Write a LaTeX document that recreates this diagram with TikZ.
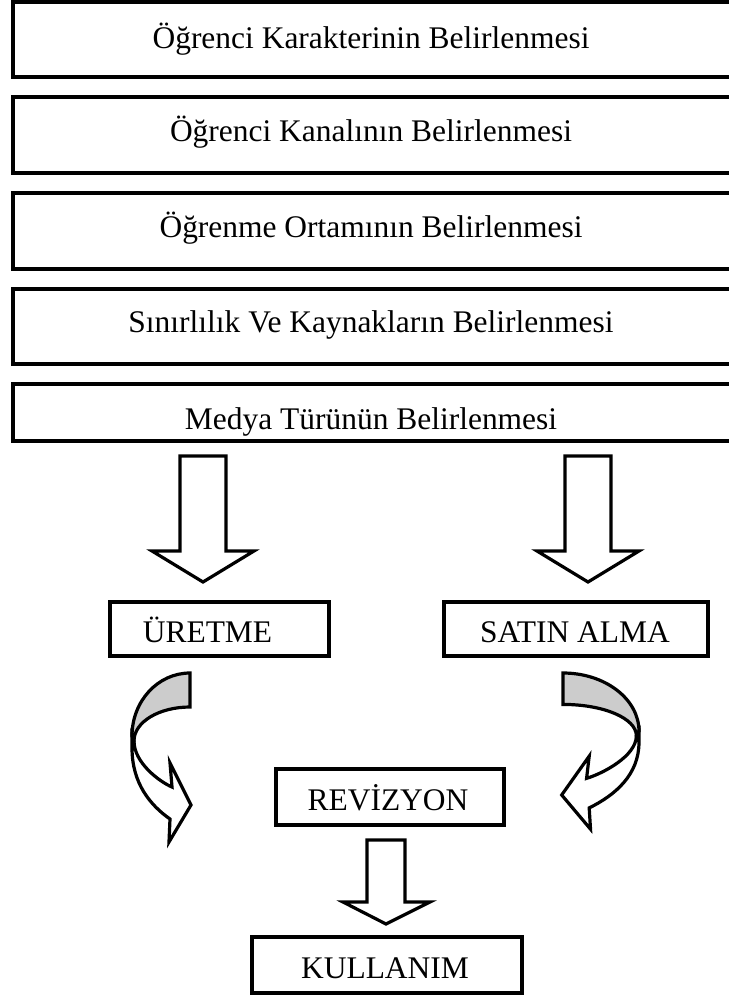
\documentclass[tikz,border=0pt]{standalone}
\usepackage{fontspec}
\setmainfont{Liberation Serif}
\begin{document}
\begin{tikzpicture}[x=0.75pt,y=-0.75pt,
  stagebox/.style={draw=black,line width=2.8pt,fill=white,inner sep=0pt,
    minimum width=541.5pt},
  choicebox/.style={draw=black,line width=2.5pt,fill=white,inner sep=0pt},
  caption/.style={anchor=base,inner sep=0pt,font=\fontsize{23.6}{28}\selectfont},
  blockarrow/.style={draw=black,line width=2.4pt,fill=white,line join=miter},
  backside/.style={draw=black,line width=2.4pt,fill=black!20,line join=miter},
]
\useasboundingbox (0,0) rectangle (728,999);

% planning stages
\node[stagebox,minimum height=56.25pt] (s1) at (374,39.5) {};
\node[stagebox,minimum height=57pt]    (s2) at (374,135) {};
\node[stagebox,minimum height=57pt]    (s3) at (374,231) {};
\node[stagebox,minimum height=56.25pt] (s4) at (374,326.5) {};
\node[stagebox,minimum height=42.75pt] (s5) at (374,412.5) {};

\node[caption] (t1) at (371,49)  {Öğrenci Karakterinin Belirlenmesi};
\node[caption] (t2) at (371,142) {Öğrenci Kanalının Belirlenmesi};
\node[caption] (t3) at (371,237) {Öğrenme Ortamının Belirlenmesi};
\node[caption] (t4) at (371,332) {Sınırlılık Ve Kaynakların Belirlenmesi};
\node[caption] (t5) at (371,429) {Medya Türünün Belirlenmesi};

% two ways of obtaining the media
\node[choicebox,minimum width=164.25pt,minimum height=40.5pt] (uretme) at (219.5,629) {};
\node[caption] (tu) at (207.5,642) {ÜRETME};
\node[choicebox,minimum width=198pt,minimum height=40.5pt] (satin) at (576,629) {};
\node[caption] (ts) at (575,642) {SATIN ALMA};

% revision and use
\node[choicebox,minimum width=171pt,minimum height=42pt] (rev) at (390,797) {};
\node[caption] (tr) at (388,810) {REVİZYON};
\node[choicebox,minimum width=202.5pt,minimum height=42pt] (kul) at (387,965) {};
\node[caption] (tk) at (385,978) {KULLANIM};

% straight block arrows
\draw[blockarrow] (180,456) -- (226,456) -- (226,551) -- (254,551) -- (203,582)
  -- (152,551) -- (180,551) -- cycle;
\draw[blockarrow] (565,456) -- (611,456) -- (611,551) -- (639,551) -- (588,582)
  -- (537,551) -- (565,551) -- cycle;
\draw[blockarrow] (367,840) -- (405,840) -- (405,902) -- (430,902) -- (386,924)
  -- (343,902) -- (367,902) -- cycle;

% curved arrows towards the revision
\foreach \sx/\sy/\px in {1/1/190, -1.31/0.924/563} {
  \begin{scope}[shift={(\px,673)},xscale=\sx,yscale=\sy]
    \draw[backside] (0,0) .. controls (-32,0) and (-58,28) .. (-58,63)
      -- (-56,68) .. controls (-56,49) and (-31,34) .. (0,34) -- cycle;
    \draw[blockarrow] (-58,63) -- (-58,75) .. controls (-58,110) and (-40,132) .. (-20,146)
      -- (-21,169) -- (1,132) -- (-20,90) -- (-18,114)
      .. controls (-30,109) and (-56,90) .. (-56,68) -- cycle;
  \end{scope}
}
\end{tikzpicture}
\end{document}
